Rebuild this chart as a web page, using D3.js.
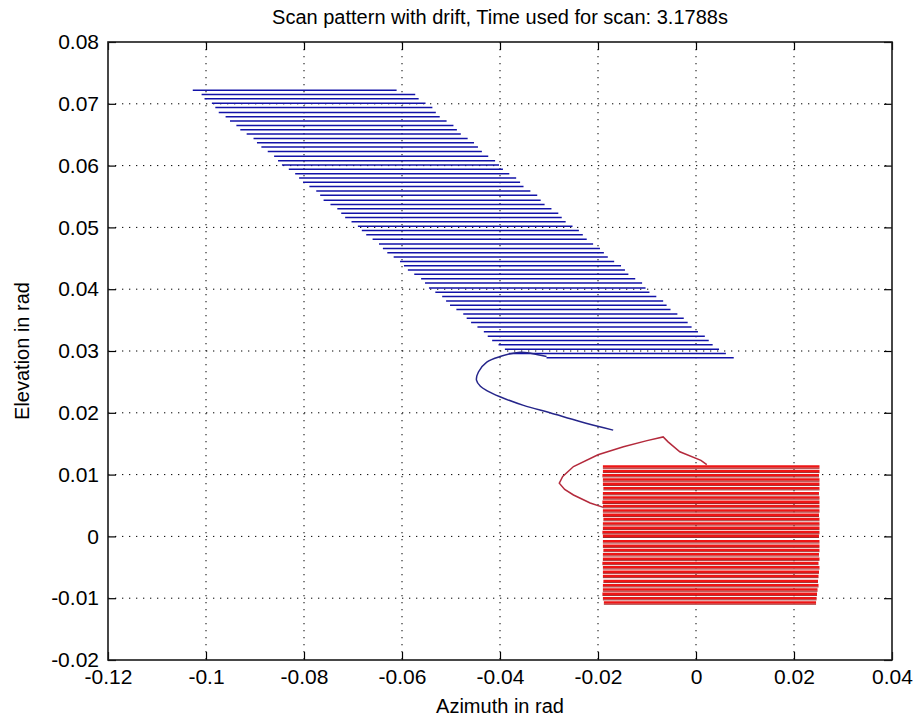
<!DOCTYPE html>
<html>
<head>
<meta charset="utf-8">
<script src="https://cdn.jsdelivr.net/npm/d3@7"></script>
<style>
  body { margin: 0; background: #fff; }
  text { font-family: "Liberation Sans", Arial, sans-serif; fill: #000; }
</style>
</head>
<body>
<div id="chart"></div>
<script>
// Axis ticks
const xTicks = [-0.12, -0.1, -0.08, -0.06, -0.04, -0.02, 0, 0.02, 0.04];
const xTickLabels = ["-0.12", "-0.1", "-0.08", "-0.06", "-0.04", "-0.02", "0", "0.02", "0.04"];
const yTicks = [-0.02, -0.01, 0, 0.01, 0.02, 0.03, 0.04, 0.05, 0.06, 0.07, 0.08];
const yTickLabels = ["-0.02", "-0.01", "0", "0.01", "0.02", "0.03", "0.04", "0.05", "0.06", "0.07", "0.08"];

// Drifted scan (blue): one entry per scan row
const blueElev = [0.0722, 0.0715, 0.0708, 0.0701, 0.0694, 0.0686, 0.0679, 0.0672, 0.0665, 0.0658,
  0.0651, 0.0644, 0.0637, 0.0630, 0.0623, 0.0615, 0.0608, 0.0601, 0.0594, 0.0587,
  0.0580, 0.0573, 0.0566, 0.0559, 0.0552, 0.0544, 0.0537, 0.0530, 0.0523, 0.0516,
  0.0509, 0.0502, 0.0495, 0.0488, 0.0481, 0.0473, 0.0466, 0.0459, 0.0452, 0.0445,
  0.0438, 0.0431, 0.0424, 0.0417, 0.0410, 0.0402, 0.0395, 0.0388, 0.0381, 0.0374,
  0.0367, 0.0360, 0.0353, 0.0346, 0.0339, 0.0331, 0.0324, 0.0317, 0.0310, 0.0303,
  0.0296, 0.0289];
const blueStart = [-0.1027, -0.1009, -0.1003, -0.0988, -0.0981, -0.0974, -0.0960, -0.0951, -0.0938, -0.0930,
  -0.0917, -0.0903, -0.0896, -0.0887, -0.0874, -0.0861, -0.0853, -0.0845, -0.0831, -0.0818,
  -0.0810, -0.0802, -0.0789, -0.0775, -0.0767, -0.0760, -0.0746, -0.0732, -0.0724, -0.0716,
  -0.0703, -0.0690, -0.0682, -0.0673, -0.0660, -0.0647, -0.0639, -0.0630, -0.0617, -0.0604,
  -0.0596, -0.0588, -0.0575, -0.0561, -0.0553, -0.0545, -0.0532, -0.0518, -0.0510, -0.0502,
  -0.0489, -0.0475, -0.0468, -0.0459, -0.0446, -0.0433, -0.0425, -0.0416, -0.0403, -0.0390,
  -0.0382, -0.0305];
const blueEnd = [-0.0611, -0.0573, -0.0566, -0.0552, -0.0538, -0.0531, -0.0523, -0.0509, -0.0495, -0.0488,
  -0.0480, -0.0466, -0.0453, -0.0445, -0.0437, -0.0424, -0.0410, -0.0402, -0.0394, -0.0381,
  -0.0367, -0.0359, -0.0352, -0.0338, -0.0324, -0.0317, -0.0309, -0.0295, -0.0281, -0.0274,
  -0.0266, -0.0252, -0.0239, -0.0231, -0.0223, -0.0210, -0.0196, -0.0188, -0.0180, -0.0167,
  -0.0153, -0.0145, -0.0138, -0.0124, -0.0110, -0.0103, -0.0095, -0.0081, -0.0067, -0.0060,
  -0.0052, -0.0038, -0.0025, -0.0017, -0.0009, 0.0004, 0.0018, 0.0026, 0.0034, 0.0047,
  0.0061, 0.0077];

// Drift transition (blue)
const blueCurveAz = [-0.0305, -0.0335, -0.0359, -0.0400, -0.0427, -0.0444, -0.0448, -0.0440, -0.0427, -0.0400, -0.0352, -0.0298, -0.0237, -0.0169];
const blueCurveEl = [0.0291, 0.0296, 0.0298, 0.0291, 0.0282, 0.0266, 0.0253, 0.0243, 0.0236, 0.0226, 0.0212, 0.0200, 0.0186, 0.0172];

// Scan without drift (red)
const redElev = [0.0113, 0.0106, 0.0099, 0.0092, 0.0085, 0.0078, 0.0070, 0.0063, 0.0056, 0.0049,
  0.0042, 0.0035, 0.0028, 0.0021, 0.0014, 0.0007, 0.0001, -0.0008, -0.0015, -0.0022,
  -0.0029, -0.0036, -0.0043, -0.0050, -0.0057, -0.0064, -0.0072, -0.0079, -0.0086, -0.0093,
  -0.0100, -0.0107];
const redStart = [-0.0190, -0.0190, -0.0191, -0.0190, -0.0190, -0.0189, -0.0190, -0.0190, -0.0191, -0.0190,
  -0.0190, -0.0190, -0.0189, -0.0190, -0.0190, -0.0191, -0.0190, -0.0190, -0.0190, -0.0189,
  -0.0190, -0.0190, -0.0191, -0.0190, -0.0190, -0.0190, -0.0189, -0.0190, -0.0190, -0.0191,
  -0.0190, -0.0188];
const redEnd = [0.0252, 0.0252, 0.0251, 0.0252, 0.0252, 0.0252, 0.0251, 0.0252, 0.0252, 0.0252,
  0.0252, 0.0251, 0.0252, 0.0252, 0.0252, 0.0252, 0.0251, 0.0252, 0.0252, 0.0252,
  0.0251, 0.0252, 0.0250, 0.0252, 0.0251, 0.0250, 0.0249, 0.0250, 0.0248, 0.0247,
  0.0246, 0.0245];

// Transition into the red scan
const redCurveAz = [0.0022, 0.0010, -0.0033, -0.0057, -0.0067, -0.0100, -0.0148, -0.0200, -0.0250, -0.0272, -0.0279, -0.0268, -0.0250, -0.0216, -0.0189];
const redCurveEl = [0.0116, 0.0123, 0.0137, 0.0153, 0.0161, 0.0155, 0.0145, 0.0132, 0.0113, 0.0097, 0.0086, 0.0076, 0.0067, 0.0054, 0.0047];

// Canvas
const margin = { top: 42, right: 27, bottom: 66, left: 108 };
const width = 919 - margin.left - margin.right;
const height = 726 - margin.top - margin.bottom;

const root = d3.select("#chart")
  .append("svg")
  .attr("width", 919)
  .attr("height", 726);

const svg = root.append("g")
  .attr("transform", `translate(${margin.left},${margin.top})`);

const x = d3.scaleLinear().domain([-0.12, 0.04]).range([0, width]);
const y = d3.scaleLinear().domain([-0.02, 0.08]).range([height, 0]);

// Dotted grid
svg.append("g")
  .selectAll("line")
  .data(xTicks.slice(1, -1))
  .enter().append("line")
  .attr("x1", d => x(d)).attr("x2", d => x(d))
  .attr("y1", 0).attr("y2", height)
  .attr("stroke", "#000").attr("stroke-width", 1)
  .attr("stroke-dasharray", "1.3,5.7");

svg.append("g")
  .selectAll("line")
  .data(yTicks.slice(1, -1))
  .enter().append("line")
  .attr("y1", d => y(d)).attr("y2", d => y(d))
  .attr("x1", 0).attr("x2", width)
  .attr("stroke", "#000").attr("stroke-width", 1)
  .attr("stroke-dasharray", "1.3,5.7");

const line = d3.line().x(d => x(d[0])).y(d => y(d[1]));

// Scan rows drawn as horizontal segments
function rows(g, elev, start, end, color, w, dy) {
  g.selectAll(null)
    .data(elev)
    .enter().append("line")
    .attr("x1", (d, i) => x(start[i]))
    .attr("x2", (d, i) => x(end[i]))
    .attr("y1", d => y(d) + dy)
    .attr("y2", d => y(d) + dy)
    .attr("stroke", color)
    .attr("stroke-width", w);
}

// Blue drifted scan
const blueG = svg.append("g");
rows(blueG, blueElev, blueStart, blueEnd, "#1212a8", 1.5, 0);

svg.append("path")
  .datum(blueCurveAz.map((a, i) => [a, blueCurveEl[i]]))
  .attr("d", line.curve(d3.curveCatmullRom))
  .attr("fill", "none")
  .attr("stroke", "#25258a")
  .attr("stroke-width", 1.5);

// Red scan
const redG = svg.append("g");
rows(redG, redElev, redStart, redEnd, "#ee1515", 2.5, 0);
rows(redG, redElev, redStart, redEnd, "#a32424", 1, 1.7);

svg.append("path")
  .datum(redCurveAz.map((a, i) => [a, redCurveEl[i]]))
  .attr("d", d3.line().x(d => x(d[0])).y(d => y(d[1])))
  .attr("fill", "none")
  .attr("stroke", "#b42a3c")
  .attr("stroke-width", 1.5);

// Axes (ticks inside, on all four sides)
const fmtX = (d, i) => xTickLabels[i];
const fmtY = (d, i) => yTickLabels[i];

svg.append("g")
  .attr("transform", `translate(0,${height})`)
  .call(d3.axisBottom(x).tickValues(xTicks).tickFormat(fmtX).tickSize(-8).tickPadding(9));
svg.append("g")
  .call(d3.axisTop(x).tickValues(xTicks).tickFormat("").tickSize(-8));
svg.append("g")
  .call(d3.axisLeft(y).tickValues(yTicks).tickFormat(fmtY).tickSize(-8).tickPadding(9));
svg.append("g")
  .attr("transform", `translate(${width},0)`)
  .call(d3.axisRight(y).tickValues(yTicks).tickFormat("").tickSize(-8));

svg.selectAll(".domain").remove();
svg.selectAll(".tick line").attr("stroke", "#000").attr("stroke-width", 1.2);
svg.selectAll(".tick text").attr("font-size", 21).attr("fill", "#000")
  .style("font-family", "'Liberation Sans', Arial, sans-serif");

svg.append("rect")
  .attr("width", width).attr("height", height)
  .attr("fill", "none")
  .attr("stroke", "#1a1a1a")
  .attr("stroke-width", 1.6);

// Title and labels
root.append("text")
  .attr("x", margin.left + width / 2).attr("y", 24)
  .attr("text-anchor", "middle").attr("font-size", 20)
  .text("Scan pattern with drift, Time used for scan: 3.1788s");

root.append("text")
  .attr("x", margin.left + width / 2).attr("y", 713)
  .attr("text-anchor", "middle").attr("font-size", 20)
  .text("Azimuth in rad");

root.append("text")
  .attr("transform", `translate(29,${margin.top + height / 2}) rotate(-90)`)
  .attr("text-anchor", "middle").attr("font-size", 20)
  .text("Elevation in rad");
</script>
</body>
</html>
